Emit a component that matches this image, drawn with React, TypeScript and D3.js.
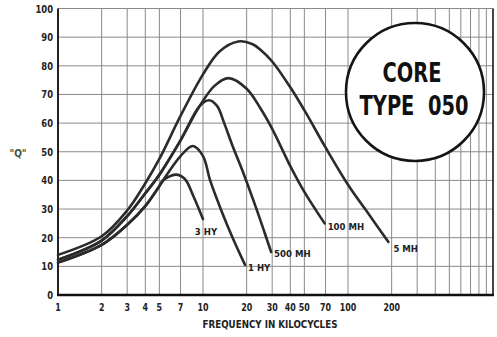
import { useEffect, useRef } from "react";
import * as d3 from "d3";

// Q vs frequency (kc) for core type 050
const curve5mh: [number, number][] = [
  [1, 14], [2, 20.5], [3, 29.5], [4, 39], [5, 47.5], [7, 62.5], [10, 77], [13, 85],
  [17.5, 88.5], [22, 87.5], [25, 85.5], [30, 81.5], [40, 72.5], [50, 64.5], [70, 51.5],
  [100, 38.5], [140, 28], [190, 18.5],
];
const curve100mh: [number, number][] = [
  [1, 12.3], [2, 19], [3, 27.5], [4, 35.5], [5, 42], [7, 54], [9.5, 66], [12, 73],
  [15, 75.7], [20, 72], [25, 65], [30, 58], [40, 45], [50, 36], [69, 25],
];
const curve500mh: [number, number][] = [
  [1, 12.3], [2, 19], [3, 27.5], [4, 35.5], [5, 42], [7, 54], [9.5, 66], [11, 68],
  [12.5, 66], [14, 60], [16, 52], [19, 42.5], [23, 31], [26.5, 22], [29.5, 15],
];
const curve1hy: [number, number][] = [
  [1, 11.3], [2, 17.5], [3, 24.5], [4, 31], [5, 38], [5.3, 40], [7, 48.5], [8.5, 52],
  [10, 48.5], [11.2, 40], [13.5, 29], [16, 20], [19.5, 10.5],
];
const curve3hy: [number, number][] = [
  [1, 11.3], [2, 17.5], [3, 24.5], [4, 31], [5, 38], [5.3, 40], [6.5, 42], [7.5, 40.5],
  [8.5, 35], [10, 26.5],
];

const series = [curve5mh, curve100mh, curve500mh, curve1hy, curve3hy];
const seriesLabels = ["5 MH", "100 MH", "500 MH", "1 HY", "3 HY"];

const xTickLabels = [1, 2, 3, 4, 5, 7, 10, 20, 30, 40, 50, 70, 100, 200];
const xGrid = [2, 3, 4, 5, 7, 10, 20, 30, 40, 50, 70, 100, 200, 300, 400, 500, 600, 700, 800, 900];
const yTicks = [0, 10, 20, 30, 40, 50, 60, 70, 80, 90, 100];

const W = 497;
const H = 337;
const FONT = "'DejaVu Sans Condensed', 'DejaVu Sans', sans-serif";

export default function App() {
  const svgRef = useRef<SVGSVGElement>(null);

  useEffect(() => {
    if (!svgRef.current) return;
    const svg = d3.select(svgRef.current);
    svg.selectAll("*").remove();

    const x = d3.scaleLog().domain([1, 1000]).range([58, 493]);
    const y = d3.scaleLinear().domain([0, 100]).range([295, 8.5]);

    svg.append("rect").attr("width", W).attr("height", H).attr("fill", "#fff");

    // grid
    svg.append("g")
      .selectAll("line")
      .data(xGrid)
      .join("line")
      .attr("x1", d => x(d)).attr("x2", d => x(d))
      .attr("y1", y(100)).attr("y2", y(0))
      .attr("stroke", "#8a8a8a").attr("stroke-width", 1);

    svg.append("g")
      .selectAll("line")
      .data(yTicks.slice(1))
      .join("line")
      .attr("x1", x(1)).attr("x2", x(1000))
      .attr("y1", d => y(d)).attr("y2", d => y(d))
      .attr("stroke", "#8a8a8a").attr("stroke-width", 1);

    // frame
    svg.append("line")
      .attr("x1", x(1000)).attr("x2", x(1000)).attr("y1", y(100)).attr("y2", y(0))
      .attr("stroke", "#3d4a3d").attr("stroke-width", 2);
    svg.append("line")
      .attr("x1", x(1)).attr("x2", x(1)).attr("y1", y(100)).attr("y2", y(0) + 1)
      .attr("stroke", "#222").attr("stroke-width", 2);
    svg.append("line")
      .attr("x1", x(1) - 1).attr("x2", x(1000) + 1).attr("y1", y(0)).attr("y2", y(0))
      .attr("stroke", "#111").attr("stroke-width", 2.5);

    // tick labels (narrowed to match the condensed print type)
    svg.append("g")
      .selectAll("text")
      .data(yTicks)
      .join("text")
      .attr("transform", d => `translate(53,${y(d) + 4}) scale(0.85,1)`)
      .attr("text-anchor", "end")
      .attr("font-family", FONT).attr("font-weight", "bold").attr("font-size", 11)
      .attr("fill", "#222")
      .text(d => d);

    svg.append("g")
      .selectAll("text")
      .data(xTickLabels)
      .join("text")
      .attr("transform", d => `translate(${x(d)},311) scale(0.8,1)`)
      .attr("text-anchor", "middle")
      .attr("font-family", FONT).attr("font-weight", "bold").attr("font-size", 11)
      .attr("fill", "#222")
      .text(d => d);

    svg.append("text")
      .attr("x", 270).attr("y", 328)
      .attr("text-anchor", "middle")
      .attr("font-family", FONT).attr("font-weight", "bold").attr("font-size", 9.7)
      .attr("fill", "#222")
      .text("FREQUENCY IN KILOCYCLES");

    svg.append("text")
      .attr("x", 18).attr("y", 157)
      .attr("text-anchor", "middle")
      .attr("font-family", FONT).attr("font-weight", "bold").attr("font-size", 10)
      .attr("fill", "#3b553b")
      .text('"Q"');

    // curves
    const line = d3.line<[number, number]>()
      .x(d => x(d[0]))
      .y(d => y(d[1]))
      .curve(d3.curveCatmullRom.alpha(0.5));

    svg.append("g")
      .selectAll("path")
      .data(series)
      .join("path")
      .attr("d", d => line(d))
      .attr("fill", "none")
      .attr("stroke", "#2b2b2b")
      .attr("stroke-width", 2.6)
      .attr("stroke-linecap", "round");

    // curve labels, placed off each curve's end point
    const offsets: [number, number, string][] = [
      [5, 10, "start"], [3, 7, "start"], [3, 5, "start"], [3, 6, "start"], [3, 16, "middle"],
    ];
    svg.append("g")
      .selectAll("text")
      .data(series)
      .join("text")
      .attr("x", (d, i) => x(d[d.length - 1][0]) + offsets[i][0])
      .attr("y", (d, i) => y(d[d.length - 1][1]) + offsets[i][1])
      .attr("text-anchor", (d, i) => offsets[i][2])
      .attr("font-family", FONT).attr("font-weight", "bold").attr("font-size", 9.5)
      .attr("fill", "#222")
      .text((d, i) => seriesLabels[i]);

    // badge
    svg.append("circle")
      .attr("cx", 415).attr("cy", 92).attr("r", 69)
      .attr("fill", "#fff").attr("stroke", "#151515").attr("stroke-width", 2.6);
    svg.append("text")
      .attr("transform", "translate(412,82) scale(0.9,1.08)")
      .attr("text-anchor", "middle")
      .attr("font-family", FONT).attr("font-weight", "bold").attr("font-size", 24)
      .attr("fill", "#111")
      .text("CORE");
    svg.append("text")
      .attr("transform", "translate(414,115) scale(0.9,1.08)")
      .attr("text-anchor", "middle")
      .attr("font-family", FONT).attr("font-weight", "bold").attr("font-size", 24)
      .attr("fill", "#111")
      .attr("xml:space", "preserve")
      .style("white-space", "pre")
      .text("TYPE  050");
  }, []);

  return (
    <div style={{ position: "fixed", left: 0, top: 0, width: W, height: H }}>
      <svg ref={svgRef} width={W} height={H} />
    </div>
  );
}
